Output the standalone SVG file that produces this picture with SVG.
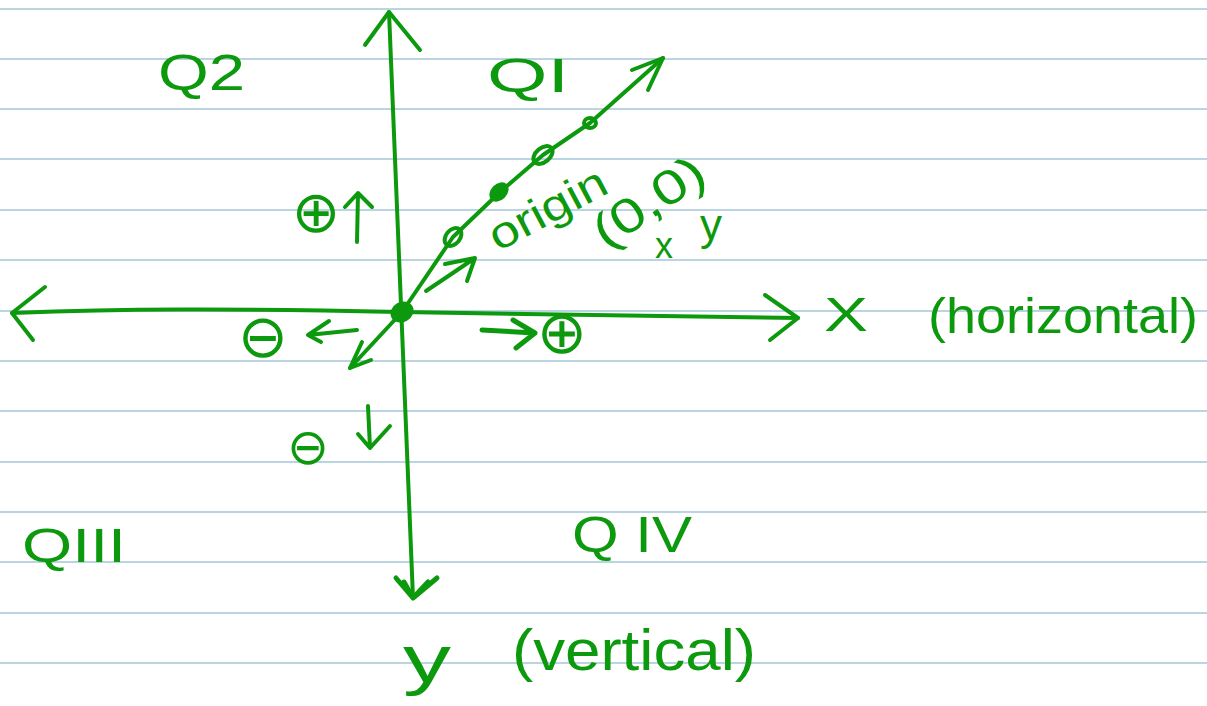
<svg xmlns="http://www.w3.org/2000/svg" width="1207" height="706" viewBox="0 0 1207 706">
<style>
.rule{stroke:#a3c6d9;stroke-width:1.5}
.ink{fill:none;stroke:#0d990d;stroke-width:4;stroke-linecap:round;stroke-linejoin:round}
.thick{stroke-width:5}
.txt{fill:#0d990d;font-family:"Liberation Sans",Arial,sans-serif}
.sym{fill:#0d990d;font-family:"DejaVu Sans",sans-serif}
</style>
<rect width="1207" height="706" fill="#ffffff"/>
<g id="rules">
<line class="rule" x1="0" y1="9" x2="1207" y2="9"/>
<line class="rule" x1="0" y1="59" x2="1207" y2="59"/>
<line class="rule" x1="0" y1="109" x2="1207" y2="109"/>
<line class="rule" x1="0" y1="159" x2="1207" y2="159"/>
<line class="rule" x1="0" y1="210" x2="1207" y2="210"/>
<line class="rule" x1="0" y1="260" x2="1207" y2="260"/>
<line class="rule" x1="0" y1="311" x2="1207" y2="311"/>
<line class="rule" x1="0" y1="361" x2="1207" y2="361"/>
<line class="rule" x1="0" y1="411" x2="1207" y2="411"/>
<line class="rule" x1="0" y1="462" x2="1207" y2="462"/>
<line class="rule" x1="0" y1="512" x2="1207" y2="512"/>
<line class="rule" x1="0" y1="562" x2="1207" y2="562"/>
<line class="rule" x1="0" y1="613" x2="1207" y2="613"/>
<line class="rule" x1="0" y1="663" x2="1207" y2="663"/>
</g>
<g id="axes">
<path class="ink" d="M389 12 L413 598"/>
<path class="ink" d="M365 45 L389 12 L420 50"/>
<path class="ink thick" d="M396 578 L413 598 L437 578 M404 582 L413 598 L428 582"/>
<path class="ink" d="M12 313 C120 309 220 308 400 312 L798 318"/>
<path class="ink" d="M45 287 L12 313 L33 340"/>
<path class="ink" d="M765 295 L798 318 L770 340"/>
<path class="ink" d="M350 368 L402 312 L453 237 L500 192 L543 155 L590 123 L663 58"/>
<path class="ink" d="M632 70 L663 58 L648 90"/>
<path class="ink" d="M362 342 L350 368 L371 360"/>
<ellipse cx="402" cy="312" rx="12" ry="10" fill="#0d990d" transform="rotate(-30 402 312)"/>
<ellipse cx="453" cy="237" rx="10" ry="7" class="ink" transform="rotate(-50 453 237)"/>
<ellipse cx="499" cy="192" rx="11" ry="8" fill="#0d990d" transform="rotate(-45 499 192)"/>
<ellipse cx="543" cy="155" rx="11" ry="7" class="ink" transform="rotate(-40 543 155)"/>
<ellipse cx="590" cy="123" rx="6" ry="5" class="ink"/>
</g>
<g id="small-arrows">
<path class="ink" d="M426 291 Q450 275 475 258 M445 264 L475 258 L467 281"/>
<path class="ink" d="M357 242 L358 193 M345 207 L358 193 L372 207"/>
<path class="ink" d="M357 330 L308 335 M329 321 L308 335 L321 342"/>
<path class="ink thick" d="M482 330 L535 333 M513 320 L535 333 L516 348"/>
<path class="ink" d="M368 406 L370 448 M358 434 L370 448 L390 426"/>
</g>
<g id="signs">
<text class="sym" x="316" y="232" font-size="58" text-anchor="middle">⊕</text>
<text class="sym" x="263" y="357" font-size="60" text-anchor="middle">⊖</text>
<text class="sym" x="562" y="353" font-size="60" text-anchor="middle">⊕</text>
<text class="sym" x="308" y="464" font-size="50" text-anchor="middle">⊖</text>
</g>
<g id="labels">
<text class="txt" x="158" y="90" font-size="50" textLength="87" lengthAdjust="spacingAndGlyphs">Q2</text>
<text class="txt" x="487" y="92" font-size="48" textLength="82" lengthAdjust="spacingAndGlyphs">QI</text>
<text class="txt" x="498" y="252" font-size="44" textLength="128" lengthAdjust="spacingAndGlyphs" transform="rotate(-28 498 252)">origin</text>
<text class="txt" x="606" y="250" font-size="48" textLength="125" lengthAdjust="spacingAndGlyphs" transform="rotate(-34 606 250)">(0,0)</text>
<text class="txt" x="655" y="258" font-size="36">x</text>
<text class="txt" x="700" y="240" font-size="44">y</text>
<text class="txt" x="824" y="331" font-size="48" textLength="44" lengthAdjust="spacingAndGlyphs">X</text>
<text class="txt" x="928" y="333" font-size="50" textLength="270" lengthAdjust="spacingAndGlyphs">(horizontal)</text>
<text class="txt" x="403" y="682" font-size="66" textLength="48" lengthAdjust="spacingAndGlyphs">y</text>
<text class="txt" x="512" y="670" font-size="58" textLength="244" lengthAdjust="spacingAndGlyphs">(vertical)</text>
<text class="txt" x="22" y="562" font-size="48" textLength="104" lengthAdjust="spacingAndGlyphs">QIII</text>
<text class="txt" x="572" y="552" font-size="50" textLength="120" lengthAdjust="spacingAndGlyphs">Q IV</text>
</g>
</svg>
